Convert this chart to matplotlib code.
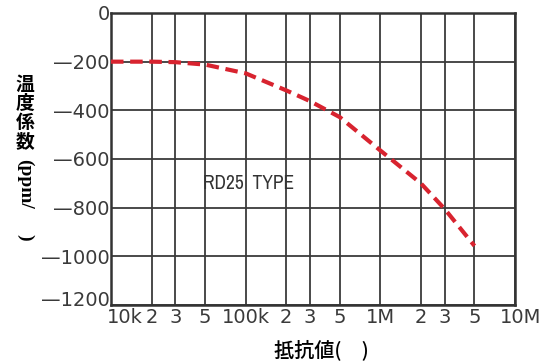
import matplotlib
matplotlib.use("Agg")
import matplotlib.pyplot as plt
from matplotlib import font_manager
from matplotlib.font_manager import FontProperties
import matplotlib.transforms as mtransforms

resistance = [1e4, 2e4, 3e4, 5e4, 1e5, 2e5, 3e5, 5e5, 1e6, 2e6, 3e6, 5e6]
tcr = [-200, -200, -202, -212, -248, -318, -362, -428, -565, -700, -805, -957]

xticks = [1e4, 2e4, 3e4, 5e4, 1e5, 2e5, 3e5, 5e5, 1e6, 2e6, 3e6, 5e6, 1e7]
xticklabels = ["10k", "2", "3", "5", "100k", "2", "3", "5", "1M", "2", "3", "5", "10M"]
yticks = [0, -200, -400, -600, -800, -1000, -1200]
yticklabels = ["0", "\u2014200", "\u2014400", "\u2014600", "\u2014800", "\u20141000", "\u20141200"]

# look for a narrow sans face
narrow = None
for f in font_manager.fontManager.ttflist:
    fn = f.fname.lower()
    if ("narrow" in fn and "bold" not in fn and "italic" not in fn) or fn.endswith("dejavusanscondensed.ttf"):
        narrow = f.fname
        if "narrow" in fn:
            break

def nfp(size):
    if narrow:
        return FontProperties(fname=narrow, size=size)
    return FontProperties(family="DejaVu Sans", size=size * 0.85)

fig = plt.figure(figsize=(5.47, 3.63), dpi=100)
ax = fig.add_axes([111/547, 1-305/363, (515-111)/547, (305-13)/363])
ax.set_xscale("log")
ax.set_xlim(1e4, 1e7)
ax.set_ylim(-1200, 0)

ax.plot(resistance, tcr, color="#d8232f", lw=3, dashes=(3, 1.6), zorder=3)

ax.set_xticks(xticks)
ax.set_xticklabels(xticklabels)
ax.minorticks_off()
ax.set_yticks(yticks)
ax.set_yticklabels(yticklabels)
ax.tick_params(length=0, labelcolor="#3a3a3a", labelsize=14)
ax.tick_params(axis="x", pad=2)
ax.tick_params(axis="y", pad=1)
for lab in ax.get_xticklabels() + ax.get_yticklabels():
    lab.set_fontfamily("DejaVu Sans")
ylabs = ax.get_yticklabels()
ylabs[-1].set_transform(ylabs[-1].get_transform() + mtransforms.ScaledTranslation(0, 7/100, fig.dpi_scale_trans))
xlabs = ax.get_xticklabels()
xlabs[0].set_horizontalalignment("left")
xlabs[0].set_transform(xlabs[0].get_transform() + mtransforms.ScaledTranslation(-4/100, 0, fig.dpi_scale_trans))
xlabs[-1].set_transform(xlabs[-1].get_transform() + mtransforms.ScaledTranslation(6/100, 0, fig.dpi_scale_trans))
ax.grid(True, color="#3a3a3a", lw=1.3)
for s in ax.spines.values():
    s.set_color("#333333")
    s.set_linewidth(1.8)

ax.text(4.8e4, -700, "RD25  TYPE", color="#333333", fontproperties=nfp(14),
        ha="left", va="center")

fig.text(321/547, 1-350/363, "抵抗値(\u3000)", fontsize=14.5, ha="center", va="center",
         fontfamily=["Noto Sans CJK JP", "DejaVu Sans"], fontweight=500)

cjk = ["Noto Sans CJK JP", "DejaVu Sans"]
for ch, yy in zip("温度係数", [84, 103, 122, 142]):
    fig.text(25/547, 1-yy/363, ch, fontsize=13.5, ha="center", va="center",
             fontfamily=cjk, fontweight="bold")
fig.text(25/547, 1-184/363, "(ppm/", fontsize=14, ha="center", va="center",
         rotation=-90, fontfamily=["Liberation Serif", "DejaVu Serif"], fontweight="bold")
fig.text(25/547, 1-237/363, ")", fontsize=14, ha="center", va="center",
         rotation=-90, fontfamily=["Liberation Serif", "DejaVu Serif"], fontweight="bold")

fig.savefig("out.png", dpi=100)
